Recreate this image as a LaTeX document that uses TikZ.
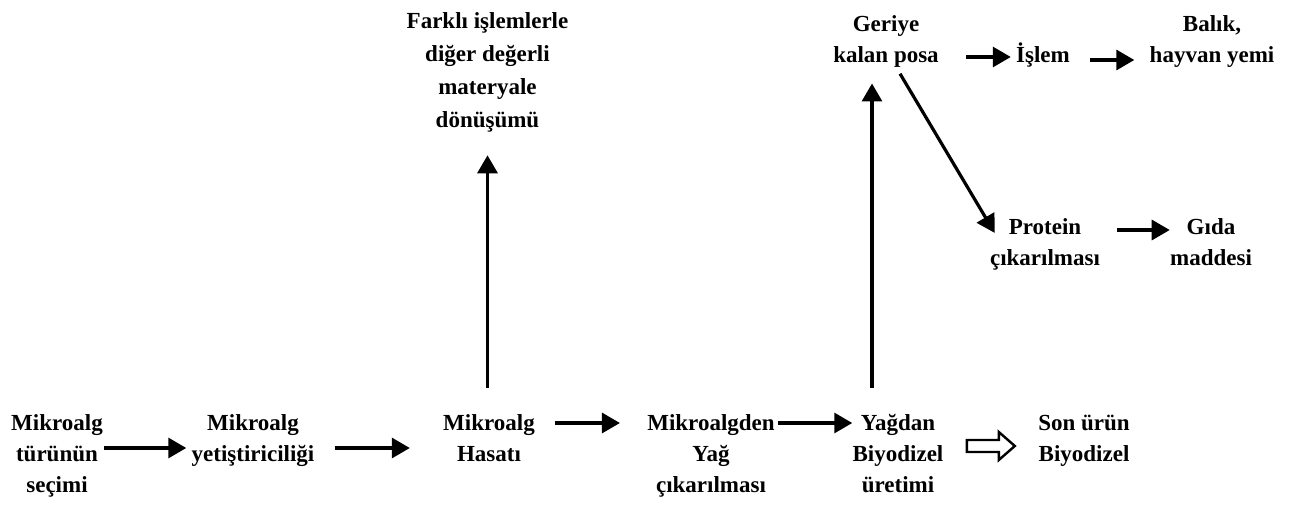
\documentclass[tikz,border=0pt]{standalone}
\usepackage{fontspec}
\setmainfont{Liberation Serif}
\usetikzlibrary{arrows.meta,calc}
\newcommand\ml[1]{\begin{tabular}[t]{@{}c@{}}#1\end{tabular}}
\begin{document}
\begin{tikzpicture}[x=0.5pt,y=-0.5pt,
  lbl/.style={anchor=base,inner sep=0pt,font=\bfseries\fontsize{11.5}{15.5}\selectfont},
  lbltop/.style={anchor=base,inner sep=0pt,font=\bfseries\fontsize{11.5}{16.5}\selectfont},
  arr/.style={line width=1.6pt,-{Triangle[length=9pt,width=10pt]}},
  hollow/.style={line width=1.2pt,line join=miter}]
\useasboundingbox (0,0) rectangle (1293,507);
% bottom row
\node[lbl] (n1) at (57,430.5) {\ml{Mikroalg\\türünün\\seçimi}};
\node[lbl] (n2) at (253,430.5) {\ml{Mikroalg\\yetiştiriciliği}};
\node[lbl] (n3) at (489,430.5) {\ml{Mikroalg\\Hasatı}};
\node[lbl] (n4) at (711,430.5) {\ml{Mikroalgden\\Yağ\\çıkarılması}};
\node[lbl] (n5) at (898,430.5) {\ml{Yağdan\\Biyodizel\\üretimi}};
\node[lbl] (n6) at (1084,430.5) {\ml{Son ürün\\Biyodizel}};
% upper nodes
\node[lbltop] (far) at (487.5,29) {\ml{Farklı işlemlerle\\diğer değerli\\materyale\\dönüşümü}};
\node[lbl] (ger) at (886,32) {\ml{Geriye\\kalan posa}};
\node[lbl] (isl) at (1043,63) {İşlem};
\node[lbl] (bal) at (1212,32) {\ml{Balık,\\hayvan yemi}};
\node[lbl] (pro) at (1045,235) {\ml{Protein\\çıkarılması}};
\node[lbl] (gid) at (1211,235) {\ml{Gıda\\maddesi}};
% connectors
\draw[arr,shorten <=0.5pt,shorten >=2.5pt] (n1.east |- 0,448) -- (n2.west |- 0,448);
\draw[arr,shorten <=10pt,shorten >=16.5pt] (n2.east |- 0,448) -- (n3.west |- 0,448);
\draw[arr,shorten <=10pt,shorten >=13.5pt] (n3.east |- 0,423) -- (n4.west |- 0,423);
\draw[arr,shorten <=1.5pt,shorten >=0pt] (n4.east |- 0,423) -- (n5.west |- 0,423);
\coordinate (ha) at ($(n5.east |- 0,446)!0.5!(n6.west |- 0,446)$);
\draw[hollow] ($(ha)+(-24,-6)$) -- ++(32,0) -- ++(0,-8) -- ($(ha)+(24,0)$)
  -- ($(ha)+(8,14)$) -- ++(0,-8) -- ++(-32,0) -- cycle;
\draw[arr,shorten <=10.4pt,shorten >=8.5pt] (far.south |- n3.north) -- (far.south);
\draw[arr,shorten <=10.4pt,shorten >=5.4pt] ($(n5.north)+(-26,0)$) -- ($(ger.south)+(-14,0)$);
\draw[arr] ($(ger.south)+(14,1)$) -- ($(pro.north west)+(5,20)$);
\draw[arr,shorten <=13.5pt,shorten >=2.5pt] (ger.east |- 0,57) -- (isl.west |- 0,57);
\draw[arr,shorten <=10pt,shorten >=7.5pt] (isl.east |- 0,60) -- (bal.west |- 0,60);
\draw[arr,shorten <=8.5pt,shorten >=0pt] (pro.east |- 0,230) -- (gid.west |- 0,230);
\end{tikzpicture}
\end{document}
